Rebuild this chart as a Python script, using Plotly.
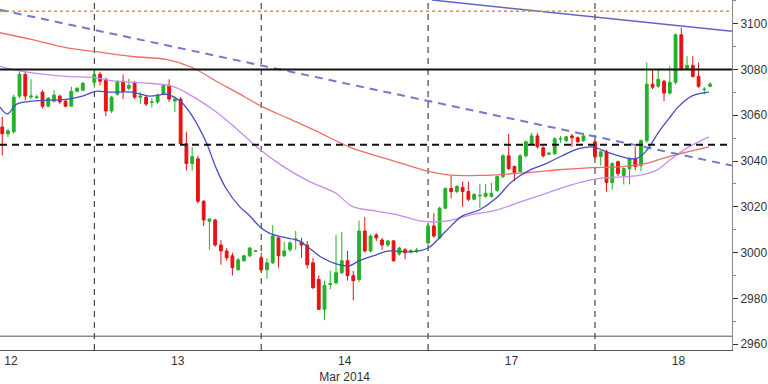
import plotly.graph_objects as go

# ---------------- data ----------------
candle_idx = [-16, -15, -14, -13, -12, -11, -10, -9, -8, -7, -6, -5, -4, -3, -2,
              0, 1, 2, 3, 4, 5, 6, 7, 8, 9, 10, 11, 12, 13, 14, 15, 16, 17, 18, 19, 20,
              21, 22, 23, 24, 25, 26, 27, 28,
              29, 30, 31, 32, 33, 34, 35, 36, 37, 38, 39, 40, 41, 42, 43, 44, 45, 46, 47,
              48, 49, 50, 51, 52, 53, 54, 55, 56,
              58, 59, 60, 61, 62, 63, 64, 65, 66, 67, 68, 69, 70, 71, 72, 73, 74, 75, 76,
              77, 78, 79, 80, 81, 82, 83, 84, 85,
              87, 88, 89, 90, 91, 92, 93, 94, 95, 96, 97, 98, 99, 100, 101, 102, 103, 104,
              105, 106, 107]

open_ = [3054.9, 3051.9, 3052.8, 3068.4, 3077.9, 3068.0, 3067.8, 3070.1, 3064.0, 3066.2, 3068.4, 3066.2, 3064.0, 3070.5, 3071.0,
         3074.4, 3077.9, 3075.7, 3061.9, 3069.2, 3074.9, 3071.8, 3074.4, 3067.9, 3067.9, 3065.6, 3065.8, 3069.2, 3073.1, 3066.2, 3067.1, 3047.6, 3038.9, 3041.0, 3022.4, 3013.7,
         3014.2, 3003.3, 3000.7, 2998.6, 2992.5, 2996.4, 2998.6, 3000.5,
         2997.7, 2992.5, 2995.5, 3006.4, 2998.6, 3001.2, 3005.6, 3004.6, 3003.3, 2995.5, 2988.2, 2975.2, 2986.0, 2986.8, 2991.2, 2996.4, 2989.9, 2988.2, 3009.4,
         3000.7, 3007.7, 3005.5, 3003.3, 3005.1, 2999.4, 3001.2, 3000.5, 3000.6,
         3004.2, 3011.6, 3006.4, 3019.4, 3028.0, 3026.7, 3028.5, 3026.7, 3023.3, 3024.8, 3024.6, 3024.6, 3027.2, 3033.2, 3042.3, 3037.6, 3035.4, 3042.3, 3047.6,
         3051.0, 3045.8, 3043.0, 3043.2, 3049.6, 3048.9, 3051.0, 3050.2, 3048.9,
         3048.4, 3041.9, 3044.1, 3030.6, 3039.7, 3033.7, 3036.7, 3041.0, 3038.0, 3048.9, 3073.6, 3072.7, 3074.9, 3069.7, 3074.4, 3095.2, 3080.5, 3081.8,
         3077.0, 3071.2, 3072.7]

high = [3059.3, 3054.0, 3069.0, 3079.2, 3079.2, 3075.7, 3069.0, 3071.0, 3068.0, 3071.0, 3069.0, 3066.5, 3072.5, 3072.3, 3074.5,
        3079.5, 3079.0, 3076.5, 3068.5, 3075.5, 3077.9, 3076.0, 3075.0, 3070.1, 3068.5, 3067.5, 3069.5, 3073.6, 3075.7, 3068.4, 3068.0, 3052.8, 3046.2, 3042.3, 3023.0, 3015.0,
        3014.8, 3005.5, 3002.0, 2999.9, 2997.7, 2999.0, 3002.4, 3001.0,
        2999.9, 2997.7, 3012.0, 3007.0, 3004.6, 3005.1, 3009.4, 3006.4, 3005.0, 2997.7, 2990.0, 2987.7, 2992.0, 3007.7, 3009.0, 3000.7, 2992.0, 3014.0, 3015.5,
        3008.0, 3008.5, 3006.4, 3005.5, 3005.5, 3002.5, 3002.0, 3001.5, 3002.0,
        3012.5, 3017.2, 3020.0, 3028.5, 3033.7, 3029.5, 3031.0, 3031.0, 3026.0, 3030.0, 3030.0, 3030.5, 3033.7, 3043.0, 3051.9, 3038.0, 3043.0, 3049.0, 3052.3,
        3052.3, 3046.5, 3044.0, 3050.5, 3051.0, 3051.0, 3051.8, 3050.8, 3052.3,
        3049.0, 3044.6, 3045.0, 3039.5, 3040.2, 3037.2, 3041.5, 3046.2, 3049.5, 3083.1, 3080.1, 3080.1, 3075.5, 3081.5, 3095.8, 3098.3, 3085.8, 3085.8,
        3083.0, 3072.3, 3074.5]

low = [3042.4, 3050.5, 3052.0, 3067.5, 3066.5, 3067.1, 3067.0, 3063.0, 3063.5, 3065.5, 3065.0, 3063.5, 3063.8, 3070.0, 3070.5,
       3072.0, 3073.0, 3059.7, 3061.0, 3068.5, 3067.1, 3071.0, 3067.0, 3064.9, 3064.0, 3063.5, 3065.0, 3068.8, 3065.8, 3061.5, 3047.0, 3035.8, 3035.8, 3021.5, 3011.6, 3001.2,
       3002.5, 2994.7, 2996.4, 2990.0, 2992.0, 2996.0, 2998.0, 3000.2,
       2991.5, 2988.5, 2995.0, 2993.4, 2998.0, 3000.3, 3001.2, 2997.7, 2993.0, 2984.0, 2974.8, 2970.4, 2984.0, 2986.0, 2990.5, 2987.7, 2979.1, 2987.0, 3000.0,
       3000.0, 3005.0, 3001.2, 3002.5, 2996.0, 2998.6, 2997.0, 2999.5, 2999.8,
       3003.5, 3006.5, 3005.9, 3019.0, 3023.7, 3026.0, 3020.0, 3022.5, 3022.8, 3019.5, 3024.0, 3024.0, 3026.5, 3032.5, 3036.0, 3031.1, 3035.0, 3041.5, 3047.0,
       3045.5, 3041.5, 3042.5, 3042.8, 3048.0, 3048.4, 3046.2, 3048.0, 3048.4,
       3041.0, 3038.0, 3026.7, 3027.6, 3033.5, 3029.8, 3029.8, 3036.0, 3035.5, 3048.0, 3071.5, 3072.0, 3066.2, 3069.0, 3073.5, 3079.5, 3080.0, 3076.5,
       3072.0, 3069.2, 3072.3]

close = [3051.9, 3053.2, 3067.9, 3077.9, 3068.4, 3068.4, 3068.0, 3064.0, 3067.5, 3068.8, 3065.8, 3064.0, 3070.5, 3071.8, 3074.0,
         3077.9, 3074.9, 3061.9, 3067.9, 3074.4, 3070.5, 3073.1, 3067.9, 3068.4, 3064.9, 3065.8, 3068.8, 3073.1, 3067.1, 3067.1, 3047.6, 3038.9, 3041.9, 3022.4, 3014.2, 3014.6,
         3003.3, 3000.7, 2997.7, 2993.4, 2996.8, 2998.6, 3002.0, 3000.7,
         2992.5, 2995.5, 3007.2, 2998.6, 3000.7, 3004.2, 3005.9, 3003.3, 2994.7, 2984.7, 2975.2, 2985.6, 2986.4, 2991.2, 2996.4, 2989.9, 2987.7, 3009.4, 3000.7,
         3007.2, 3006.4, 3003.3, 3005.1, 2996.4, 3002.0, 2999.9, 3000.8, 3001.0,
         3011.6, 3007.2, 3019.4, 3028.0, 3026.7, 3028.9, 3026.7, 3023.3, 3025.4, 3025.0, 3025.9, 3025.9, 3033.2, 3042.3, 3036.7, 3035.0, 3042.3, 3048.4, 3051.0,
         3046.2, 3042.3, 3043.4, 3049.7, 3049.8, 3050.6, 3050.2, 3048.4, 3051.0,
         3041.9, 3044.1, 3030.6, 3038.9, 3034.5, 3036.7, 3041.0, 3037.6, 3048.9, 3073.6, 3072.3, 3075.7, 3069.7, 3074.4, 3095.2, 3080.1, 3081.8, 3077.0,
         3072.7, 3071.4, 3073.6]

# moving averages as drawn (position index, value)
ma_fast_x = [-16.4, -15.1, -13.5, -10.8, -4.9, -2.1, 0.3, 2.6, 6.6, 9.5, 12.5, 13.5, 15.1, 17.0, 19.4, 21.2, 22.9,
             25.2, 26.9, 29.0, 30.4, 32.6, 35.6, 37.3, 39.6, 42.0, 44.3, 46.0, 49.0, 51.2, 55.2, 58.0, 61.1, 63.9,
             66.8, 69.8, 72.6, 75.5, 78.5, 81.3, 84.2, 86.5, 89.9, 94.1, 95.8, 98.1, 99.8, 101.6, 103.8, 105.6, 106.8]
ma_fast_y = [3063.6, 3060.6, 3064.9, 3066.2, 3067.0, 3068.4, 3070.5, 3070.1, 3070.1, 3068.4, 3069.2, 3068.4, 3065.8, 3059.7, 3048.4, 3036.7, 3028.0,
             3020.2, 3016.3, 3010.7, 3008.5, 3006.8, 3005.1, 3002.0, 2997.7, 2995.1, 2994.2, 2996.4, 2999.0, 3000.7, 3000.3, 3002.0, 3009.4, 3015.9,
             3018.5, 3023.7, 3031.1, 3035.8, 3038.9, 3042.3, 3045.4, 3046.2, 3043.2, 3041.0, 3044.1, 3052.8, 3058.4, 3064.0, 3068.4, 3069.7, 3070.1]

ma_mid_x = [-16.4, -12.5, -4.9, -0.3, 3.8, 9.5, 13.5, 17.0, 21.2, 24.7, 28.6, 32.6, 37.3, 42.0, 44.8, 49.0, 53.0, 56.9,
            61.1, 65.1, 69.8, 74.3, 78.5, 82.5, 86.5, 89.9, 94.6, 97.6, 100.3, 103.3, 106.8]
ma_mid_y = [3081.4, 3079.2, 3077.0, 3076.6, 3074.9, 3074.0, 3072.7, 3068.4, 3061.4, 3054.1, 3045.4, 3038.0, 3031.1, 3025.9, 3020.2, 3018.1, 3016.3, 3013.7,
            3013.7, 3016.3, 3018.5, 3022.4, 3025.9, 3029.3, 3031.9, 3032.8, 3033.7, 3035.8, 3041.0, 3046.2, 3050.6]

ma_slow_x = [-16.4, -10.8, -4.9, 0.0, 6.6, 12.5, 17.0, 21.2, 24.7, 29.0, 33.9, 38.5, 44.3, 49.5, 53.5, 58.2, 61.1,
             66.8, 75.5, 81.3, 86.5, 91.7, 95.8, 100.3, 103.3, 106.8]
ma_slow_y = [3096.1, 3093.1, 3089.6, 3087.9, 3085.7, 3084.4, 3080.9, 3074.9, 3070.1, 3064.0, 3058.4, 3053.2, 3046.2, 3041.9, 3038.9, 3035.4, 3034.1,
             3033.7, 3035.0, 3036.3, 3037.1, 3037.6, 3038.9, 3042.3, 3044.1, 3046.2]

# trend lines and levels
trend_dash_x = [-16.4, 110.8]
trend_dash_y = [3106.1, 3038.0]
trend_top_x = [58.7, 110.8]
trend_top_y = [3110.4, 3096.7]
level_resist = 3080
level_support = 3047.1
level_dotted = 3105.5

day_starts = [0, 29, 58, 87]
day_label_pos = [-14.5, 14.5, 43.5, 72.5, 101.5]
day_labels = ["12", "13", "14<br>Mar 2014", "17", "18"]

x_range = [-16.39, 110.81]
y_range = [2957.4, 3110.4]

# ---------------- figure ----------------
GREEN = "rgb(34,177,40)"
RED = "rgb(232,18,18)"

fig = go.Figure()

fig.add_trace(go.Scatter(x=ma_slow_x, y=ma_slow_y, mode="lines", line=dict(color="rgb(236,110,100)", width=1.3, shape="spline"), hoverinfo="skip"))
fig.add_trace(go.Scatter(x=ma_mid_x, y=ma_mid_y, mode="lines", line=dict(color="rgb(200,140,235)", width=1.3, shape="spline"), hoverinfo="skip"))
fig.add_trace(go.Scatter(x=trend_dash_x, y=trend_dash_y, mode="lines", line=dict(color="rgb(115,122,200)", width=2, dash="8px,6px"), hoverinfo="skip"))
fig.add_trace(go.Scatter(x=trend_top_x, y=trend_top_y, mode="lines", line=dict(color="rgb(100,100,200)", width=1.5), hoverinfo="skip"))

fig.add_trace(go.Candlestick(
    x=candle_idx, open=open_, high=high, low=low, close=close,
    increasing=dict(line=dict(color=GREEN, width=1), fillcolor=GREEN),
    decreasing=dict(line=dict(color=RED, width=1), fillcolor=RED),
    whiskerwidth=0,
))

fig.add_trace(go.Scatter(x=ma_fast_x, y=ma_fast_y, mode="lines", line=dict(color="rgb(70,75,200)", width=1.3, shape="spline"), hoverinfo="skip"))

shapes = []
for s in day_starts:
    shapes.append(dict(type="line", xref="x", yref="paper", x0=s, x1=s, y0=0, y1=1,
                       line=dict(color="#222", width=1, dash="6px,5px"), layer="below"))
shapes.append(dict(type="line", xref="paper", yref="y", x0=0, x1=1, y0=level_resist, y1=level_resist,
                   line=dict(color="#111", width=2)))
shapes.append(dict(type="line", xref="paper", yref="y", x0=0, x1=1, y0=level_support, y1=level_support,
                   line=dict(color="#111", width=2, dash="7px,5px")))
shapes.append(dict(type="line", xref="paper", yref="y", x0=0, x1=1, y0=level_dotted, y1=level_dotted,
                   line=dict(color="rgb(240,140,50)", width=1.5, dash="dot")))
shapes.append(dict(type="line", xref="paper", yref="paper", x0=0, x1=1, y0=0.0395, y1=0.0395,
                   line=dict(color="#555", width=1)))

fig.update_layout(
    width=768, height=384,
    margin=dict(l=0, r=36, t=0, b=30),
    paper_bgcolor="white", plot_bgcolor="white",
    showlegend=False,
    shapes=shapes,
    font=dict(family="Liberation Sans, Arial, sans-serif", size=12, color="#333"),
    xaxis=dict(range=x_range, rangeslider=dict(visible=False), showgrid=False, zeroline=False,
               tickmode="array", tickvals=day_label_pos, ticktext=day_labels, ticks="",
               showline=True, linecolor="#555", linewidth=1, fixedrange=True),
    yaxis=dict(range=y_range, side="right", showgrid=False, zeroline=False,
               tick0=2960, dtick=20, ticks="outside", ticklen=5, tickcolor="#333",
               showline=True, linecolor="#888", linewidth=1,
               minor=dict(ticks="outside", dtick=10, ticklen=3, tickcolor="#888"),
               fixedrange=True),
)

fig.write_html("out.html", config={"displayModeBar": False},
               post_script="document.body.style.margin='0';document.body.style.overflow='hidden';")
